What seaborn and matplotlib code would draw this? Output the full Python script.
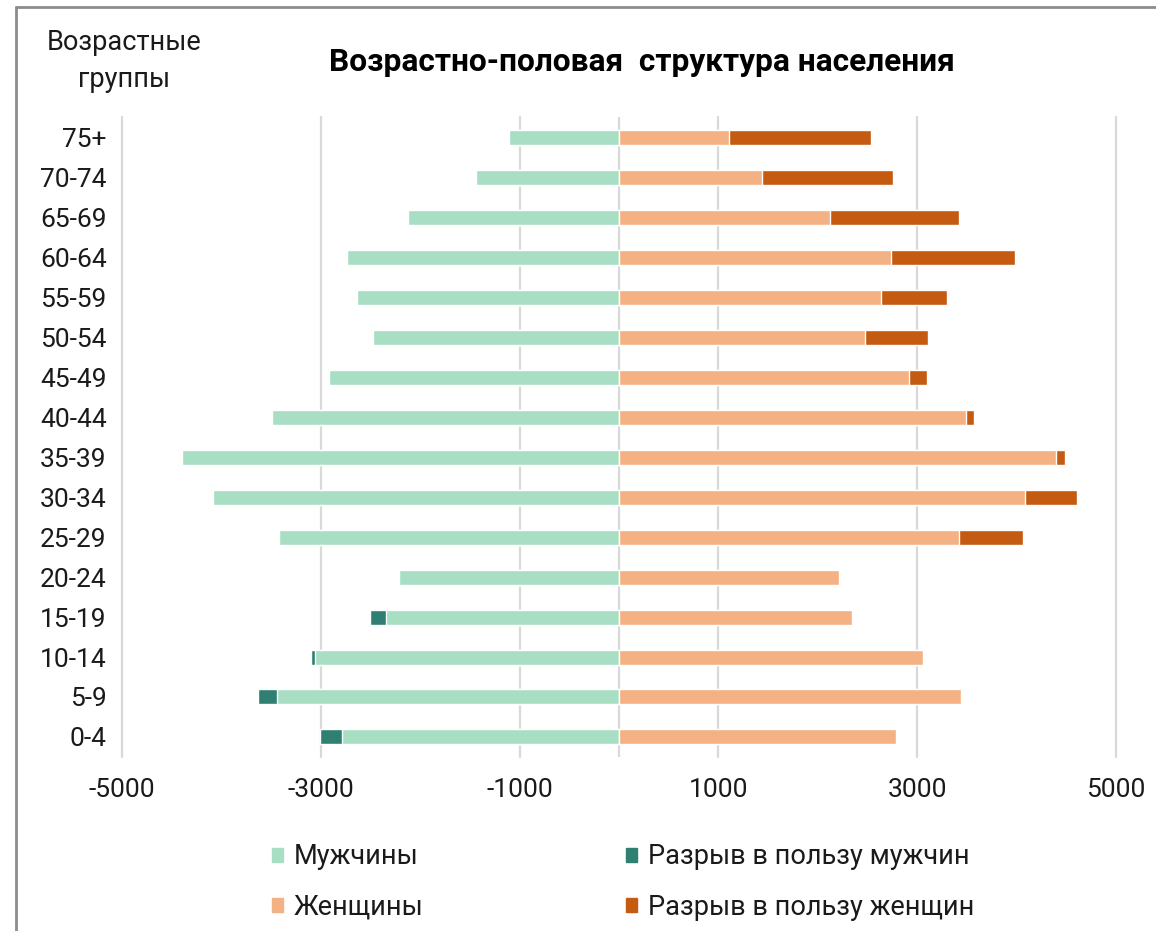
import numpy as np
import pandas as pd
import seaborn as sns
import matplotlib.pyplot as plt
from matplotlib.patches import Patch
from matplotlib.lines import Line2D

# age groups, bottom to top
ages = ['0-4', '5-9', '10-14', '15-19', '20-24', '25-29', '30-34', '35-39',
        '40-44', '45-49', '50-54', '55-59', '60-64', '65-69', '70-74', '75+']
men = [3010, 3630, 3100, 2505, 2210, 3425, 4085, 4395,
       3490, 2920, 2470, 2640, 2740, 2120, 1435, 1110]
women = [2785, 3440, 3055, 2340, 2225, 4060, 4605, 4485,
         3570, 3095, 3105, 3300, 3985, 3425, 2760, 2540]
xticks = [-5000, -3000, -1000, 1000, 3000, 5000]

c_men = '#A8DFC4'
c_men_gap = '#2F7F72'
c_women = '#F4B183'
c_women_gap = '#C55A11'

sns.set_theme(style='white')
plt.rcParams['font.family'] = ['Roboto', 'DejaVu Sans']

df = pd.DataFrame({'age': ages, 'men': men, 'women': women})
df['common'] = df[['men', 'women']].min(axis=1)
df['men_neg'] = -df['men']
df['common_neg'] = -df['common']
order = ages[::-1]

fig = plt.figure(figsize=(11.56, 9.31), dpi=100)
ax = fig.add_axes([0.1055, 0.1869, 0.8599, 0.6874])

# overlapping bars: full value in gap colour, common part on top
bw = 0.375
sns.barplot(data=df, x='men_neg', y='age', order=order, color=c_men_gap,
            width=bw, orient='h', ax=ax, saturation=1, zorder=2)
sns.barplot(data=df, x='common_neg', y='age', order=order, color=c_men,
            width=bw, orient='h', ax=ax, saturation=1, zorder=3)
sns.barplot(data=df, x='women', y='age', order=order, color=c_women_gap,
            width=bw, orient='h', ax=ax, saturation=1, zorder=2)
sns.barplot(data=df, x='common', y='age', order=order, color=c_women,
            width=bw, orient='h', ax=ax, saturation=1, zorder=3)

ax.set_xlim(-5000, 5000)
ax.set_ylim(15.5, -0.5)
ax.set_xticks(xticks)
ax.set_xticklabels([str(t) for t in xticks])
ax.set_xlabel('')
ax.set_ylabel('')
for s in ax.spines.values():
    s.set_visible(False)
for t in xticks:
    ax.axvline(t, color='#D9D9D9', lw=1.6, zorder=0, clip_on=False)
ax.axvline(0, color='#D9D9D9', lw=1.6, zorder=1)
ax.tick_params(axis='x', length=0, pad=15, labelsize=19, colors='#1a1a1a')
ax.tick_params(axis='y', length=0, pad=11, labelsize=19, colors='#1a1a1a')

fig.text(642 / 1156, 1 - 62 / 931, 'Возрастно-половая  структура населения',
         ha='center', va='center', fontsize=22.8, fontweight='bold', color='black')
fig.text(124 / 1156, 1 - 61 / 931, 'Возрастные\nгруппы', ha='center', va='center',
         fontsize=19.5, linespacing=1.45, color='#1a1a1a')

handles = [Patch(color=c_men, label='Мужчины'),
           Patch(color=c_women, label='Женщины'),
           Patch(color=c_men_gap, label='Разрыв в пользу мужчин'),
           Patch(color=c_women_gap, label='Разрыв в пользу женщин')]
fig.legend(handles=handles, ncol=2, loc='center', bbox_to_anchor=(623 / 1156, 1 - 882 / 931),
           frameon=False, fontsize=19.5, handlelength=0.42, handleheight=0.42,
           handletextpad=0.4, columnspacing=7.45, labelspacing=0.85, labelcolor='#1a1a1a')

# frame of the original chart area
fig.add_artist(Line2D([16 / 1156, 16 / 1156], [0, 1 - 7 / 931], color='#8C8C8C', lw=2))
fig.add_artist(Line2D([16 / 1156, 1], [1 - 7 / 931, 1 - 7 / 931], color='#8C8C8C', lw=2))

fig.savefig('out.png', dpi=100)
